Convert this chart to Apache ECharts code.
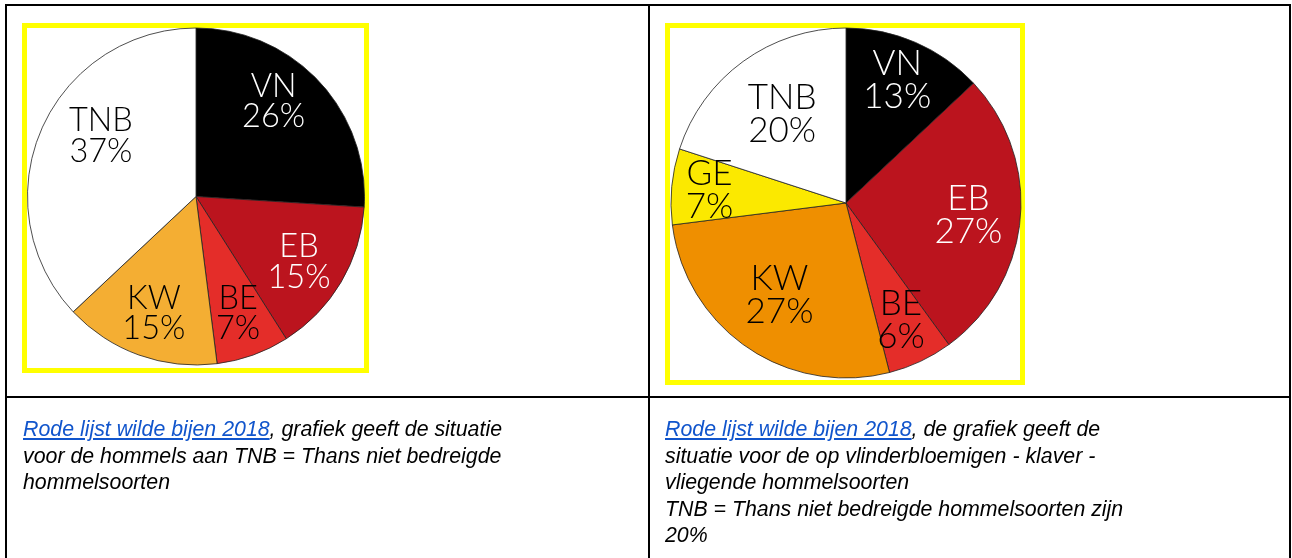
<!DOCTYPE html>
<html>
<head>
<meta charset="utf-8">
<script src="https://cdn.jsdelivr.net/npm/echarts@6/dist/echarts.min.js"></script>
<style>
  html, body { margin: 0; padding: 0; background: #fff; }
  body { width: 1292px; height: 558px; position: relative; overflow: hidden; }
  .ln { position: absolute; background: #000; }
  .ybox { position: absolute; border: 5px solid #ffff00; box-sizing: border-box; }
  #chart { position: absolute; left: 0; top: 0; width: 1292px; height: 558px; }
  .cap { position: absolute; top: 416px; font-family: "Liberation Sans", Arial, sans-serif;
         font-style: italic; font-size: 21.33px; line-height: 26.6px; color: #000; white-space: nowrap; }
  .cap a { color: #1155cc; text-decoration: underline; }
</style>
</head>
<body>
<div class="ybox" style="left:22px;top:23px;width:347px;height:350px;"></div>
<div class="ybox" style="left:665px;top:23px;width:360px;height:362px;"></div>
<div id="chart"></div>
<div class="ln" style="left:5px;top:4px;width:1286px;height:2px;"></div>
<div class="ln" style="left:5px;top:4px;width:2px;height:554px;"></div>
<div class="ln" style="left:648px;top:4px;width:2px;height:554px;"></div>
<div class="ln" style="left:1289px;top:4px;width:2px;height:554px;"></div>
<div class="ln" style="left:5px;top:396px;width:1286px;height:2px;"></div>
<div class="cap" style="left:23px;"><a>Rode lijst wilde bijen 2018</a>, grafiek geeft de situatie<br>voor de hommels aan TNB = Thans niet bedreigde<br>hommelsoorten</div>
<div class="cap" style="left:665px;"><a>Rode lijst wilde bijen 2018</a>, de grafiek geeft de<br>situatie voor de op vlinderbloemigen - klaver -<br>vliegende hommelsoorten<br>TNB = Thans niet bedreigde hommelsoorten zijn<br>20%</div>
<script>
// ---- data ----
const leftCategories  = ['VN', 'EB', 'BE', 'KW', 'TNB'];
const leftValues      = [26, 15, 7, 15, 37];
const rightCategories = ['VN', 'EB', 'BE', 'KW', 'GE', 'TNB'];
const rightValues     = [13, 27, 6, 27, 7, 20];

// ---- styles ----
const sliceColors = { VN: '#000000', EB: '#bb141e', BE: '#e42d29', TNB: '#ffffff', GE: '#fbe900' };
const kwColorLeft = '#f4ae33', kwColorRight = '#ef8f00';
const whiteLabel = { VN: true, EB: true };
const nudgeLeft  = { VN: [-13, -10], EB: [-4, 2], TNB: [19, -11] };
const nudgeRight = { VN: [0, -4], EB: [-6, 0], KW: [6, -14], GE: [-8, -1], TNB: [12, 16] };

function buildData(cats, vals, kwColor) {
  return cats.map((c, i) => ({
    name: c, value: vals[i],
    itemStyle: { color: c === 'KW' ? kwColor : sliceColors[c] },
    label: { color: whiteLabel[c] ? '#ffffff' : '#000000' }
  }));
}

function pieSeries(cats, vals, kwColor, center, r, fontSize, lh, nudge) {
  const data = buildData(cats, vals, kwColor);
  return [
    {
      type: 'pie', center: center, radius: r, startAngle: 90, clockwise: true,
      silent: true, animation: false, label: { show: false }, labelLine: { show: false },
      itemStyle: { borderColor: '#222', borderWidth: 0.8 },
      data: data
    },
    {
      type: 'pie', center: center, radius: [r * 0.44, r], startAngle: 90, clockwise: true,
      silent: true, animation: false, labelLine: { show: false },
      itemStyle: { color: 'rgba(0,0,0,0)', borderWidth: 0 },
      label: {
        show: true, position: 'inside', formatter: '{b}\n{c}%',
        fontFamily: 'Lato', fontWeight: 300, fontSize: fontSize, lineHeight: lh, align: 'center'
      },
      labelLayout: function (p) {
        const n = nudge[cats[p.dataIndex]];
        return n ? { dx: n[0], dy: n[1] } : {};
      },
      data: data.map(d => ({ name: d.name, value: d.value, label: d.label, itemStyle: { color: 'rgba(0,0,0,0)' } }))
    }
  ];
}

const chart = echarts.init(document.getElementById('chart'), null, { renderer: 'canvas' });
chart.setOption({
  animation: false,
  series: [].concat(
    pieSeries(leftCategories, leftValues, kwColorLeft, [196, 196.5], 168.5, 32.5, 30.5, nudgeLeft),
    pieSeries(rightCategories, rightValues, kwColorRight, [846, 203], 175, 35, 33, nudgeRight)
  )
});
</script>
</body>
</html>
